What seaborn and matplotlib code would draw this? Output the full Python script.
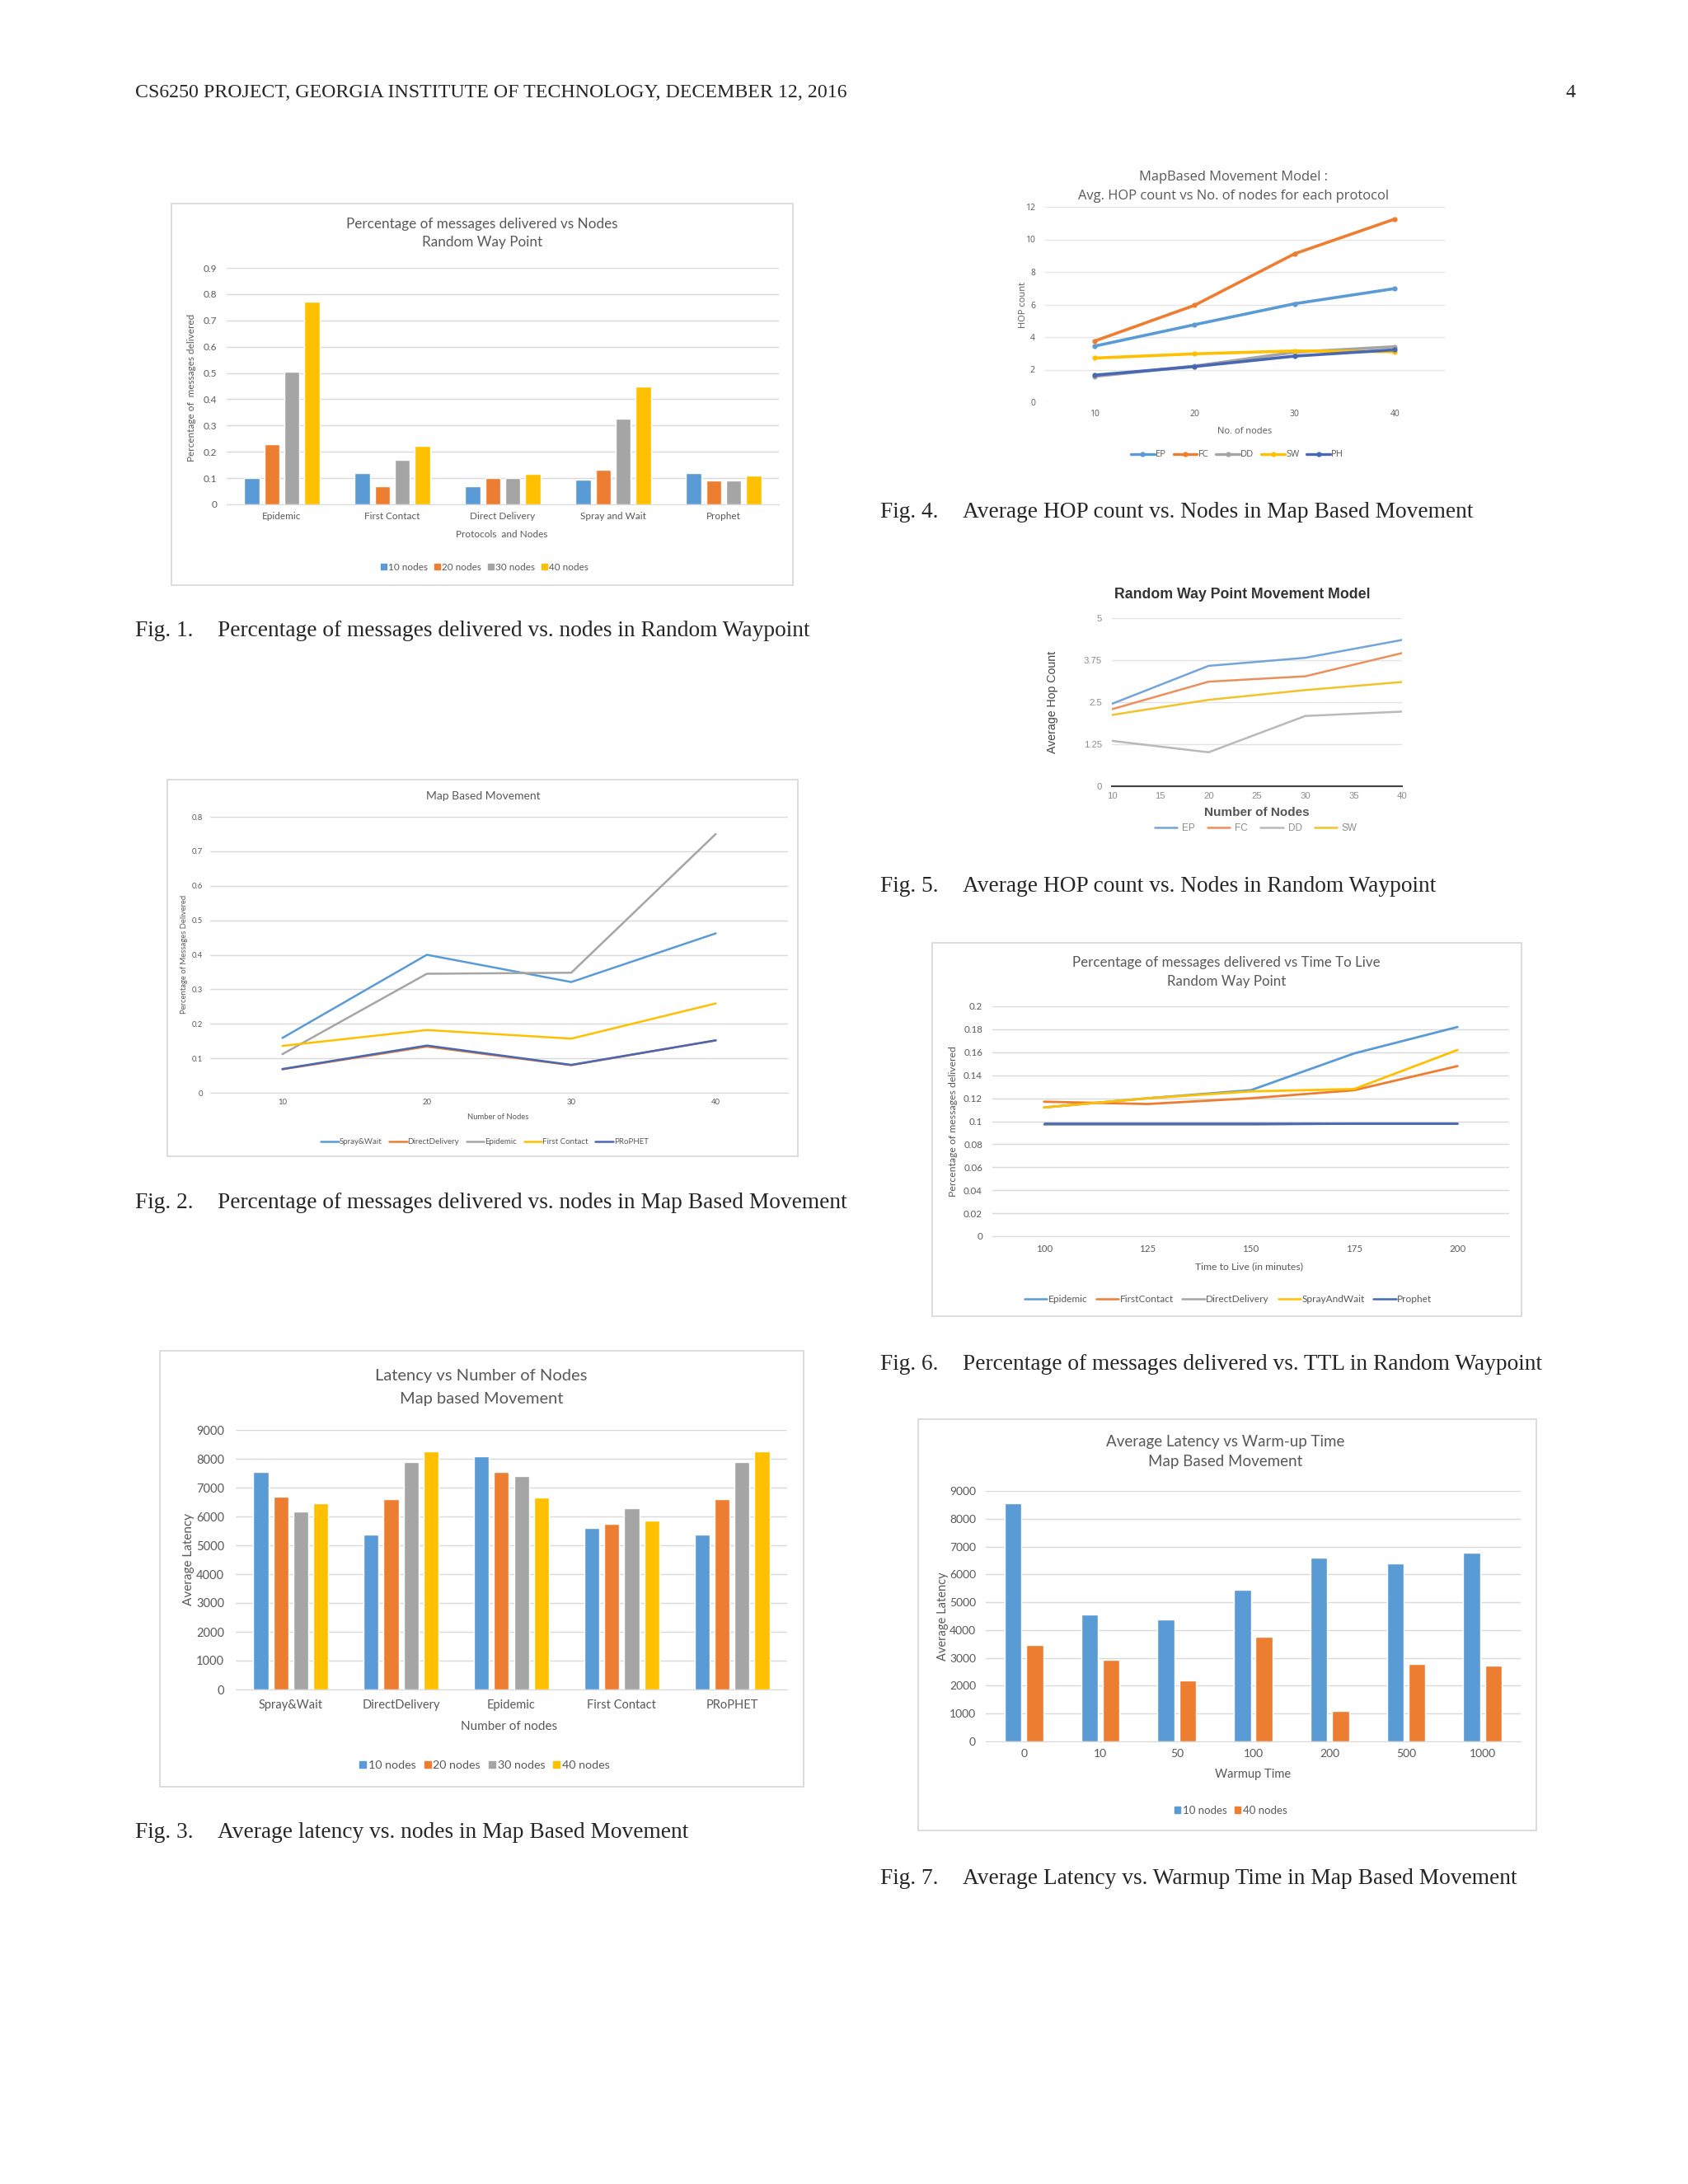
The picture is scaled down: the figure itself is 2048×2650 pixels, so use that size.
import numpy as np
import pandas as pd
import matplotlib
matplotlib.use("Agg")
import matplotlib.pyplot as plt
from matplotlib.patches import Rectangle
from matplotlib.lines import Line2D
from matplotlib.ticker import FuncFormatter
import seaborn as sns

W, H = 2048, 2650

# Fig 1 - delivery ratio, random waypoint
rwp_protocols = ["Epidemic", "First Contact", "Direct Delivery", "Spray and Wait", "Prophet"]
node_groups = ["10 nodes", "20 nodes", "30 nodes", "40 nodes"]
rwp_deliv_10 = [0.101, 0.119, 0.069, 0.094, 0.119]
rwp_deliv_20 = [0.228, 0.069, 0.101, 0.132, 0.090]
rwp_deliv_30 = [0.505, 0.169, 0.099, 0.325, 0.090]
rwp_deliv_40 = [0.771, 0.224, 0.115, 0.447, 0.110]

# Fig 2 - delivery ratio, map based
mb_nodes = [10, 20, 30, 40]
mb_series = ["Spray&Wait", "DirectDelivery", "Epidemic", "First Contact", "PRoPHET"]
mb_deliv_sw = [0.159, 0.400, 0.321, 0.462]
mb_deliv_dd = [0.068, 0.134, 0.080, 0.152]
mb_deliv_ep = [0.112, 0.345, 0.348, 0.750]
mb_deliv_fc = [0.136, 0.182, 0.157, 0.259]
mb_deliv_ph = [0.069, 0.137, 0.081, 0.152]

# Fig 3 - latency, map based
mb_lat_protocols = ["Spray&Wait", "DirectDelivery", "Epidemic", "First Contact", "PRoPHET"]
mb_lat_10 = [7530, 5360, 8080, 5590, 5360]
mb_lat_20 = [6690, 6600, 7530, 5730, 6600]
mb_lat_30 = [6180, 7900, 7400, 6280, 7900]
mb_lat_40 = [6460, 8270, 6650, 5870, 8270]

# Fig 4 - hop count, map based
hop_codes = ["EP", "FC", "DD", "SW", "PH"]
hop_mb_ep = [3.44, 4.76, 6.05, 6.98]
hop_mb_fc = [3.75, 5.95, 9.12, 11.25]
hop_mb_dd = [1.58, 2.22, 3.07, 3.41]
hop_mb_sw = [2.71, 2.97, 3.15, 3.10]
hop_mb_ph = [1.66, 2.19, 2.83, 3.22]

# Fig 5 - hop count, random waypoint
hop_rwp_ep = [2.45, 3.58, 3.82, 4.35]
hop_rwp_fc = [2.29, 3.11, 3.27, 3.96]
hop_rwp_dd = [1.35, 1.01, 2.09, 2.22]
hop_rwp_sw = [2.12, 2.57, 2.86, 3.10]

# Fig 6 - delivery vs TTL
ttl_minutes = [100, 125, 150, 175, 200]
ttl_series = ["Epidemic", "FirstContact", "DirectDelivery", "SprayAndWait", "Prophet"]
ttl_ep = [0.112, 0.120, 0.127, 0.159, 0.182]
ttl_fc = [0.117, 0.115, 0.120, 0.127, 0.148]
ttl_dd = [0.097, 0.097, 0.097, 0.098, 0.098]
ttl_sw = [0.112, 0.120, 0.126, 0.128, 0.162]
ttl_ph = [0.098, 0.098, 0.098, 0.098, 0.098]

# Fig 7 - latency vs warmup
warmup_times = ["0", "10", "50", "100", "200", "500", "1000"]
warm_groups = ["10 nodes", "40 nodes"]
warm_lat_10 = [8560, 4550, 4380, 5460, 6600, 6380, 6780]
warm_lat_40 = [3450, 2940, 2200, 3760, 1100, 2770, 2730]

BLUE, ORANGE, GRAY, YELLOW, DBLUE = "#5B9BD5", "#ED7D31", "#A5A5A5", "#FFC000", "#4868B4"
TXT = "#595959"

sns.set_style("white")
plt.rcParams["font.family"] = ["Lato", "DejaVu Sans"]

fig = plt.figure(figsize=(W / 100, H / 100), dpi=100)


def fx(x):
    return x / W


def fy(y):
    return 1 - y / H


def add_ax(x0, y0, x1, y1):
    return fig.add_axes([fx(x0), fy(y1), (x1 - x0) / W, (y1 - y0) / H])


def frame(x0, y0, x1, y1):
    fig.patches.append(Rectangle((fx(x0), fy(y1)), (x1 - x0) / W, (y1 - y0) / H,
                                 transform=fig.transFigure, fill=False,
                                 edgecolor="#D9D9D9", lw=1.3))


def style(ax, size, xpad, ypad, color=TXT, grid="#D9D9D9"):
    sns.despine(ax=ax, left=True, bottom=False, top=True, right=True)
    ax.spines["bottom"].set_color(grid)
    ax.grid(axis="y", color=grid, lw=1)
    ax.grid(axis="x", visible=False)
    ax.set_axisbelow(True)
    ax.tick_params(length=0, labelsize=size, colors=color)
    ax.tick_params(axis="x", pad=xpad)
    ax.tick_params(axis="y", pad=ypad)
    ax.yaxis.set_major_formatter(FuncFormatter(lambda v, p: f"{v:g}"))


def labels(ax, xl, xpos, yl, ypos, size, color=TXT, **kw):
    ax.set_xlabel(xl, fontsize=size, color=color, va="center", **kw)
    ax.xaxis.set_label_coords(fx(xpos[0]), fy(xpos[1]), transform=fig.transFigure)
    ax.set_ylabel(yl, fontsize=size, color=color, va="center", **kw)
    ax.yaxis.set_label_coords(fx(ypos[0]), fy(ypos[1]), transform=fig.transFigure)


def title(lines, x, ys, size, color=TXT, **kw):
    for t, y in zip(lines, ys):
        fig.text(fx(x), fy(y), t, ha="center", va="center", fontsize=size, color=color, **kw)


def legend(ax, handles, names, x, y, size, color=TXT, square=True, **kw):
    opts = dict(handlelength=0.55, handleheight=0.55, handletextpad=0.2, columnspacing=0.7) if square \
        else dict(handlelength=2.2, handletextpad=0.1, columnspacing=0.9)
    opts.update(kw)
    ax.legend(handles, names, loc="center", bbox_to_anchor=(fx(x), fy(y)),
              bbox_transform=fig.transFigure, ncol=len(names), frameon=False,
              fontsize=size, labelcolor=color, **opts)


# page header
serif = ["Liberation Serif", "DejaVu Serif"]
fig.text(fx(164), fy(113), "CS6250 PROJECT, GEORGIA INSTITUTE OF TECHNOLOGY, DECEMBER 12, 2016",
         family=serif, fontsize=17.2, va="center", ha="left")
fig.text(fx(1905), fy(113), "4", family=serif, fontsize=17.2, va="center", ha="center")

captions = [
    (164, 766, "Fig. 1.", "Percentage of messages delivered vs. nodes in Random Waypoint"),
    (1068, 621, "Fig. 4.", "Average HOP count vs. Nodes in Map Based Movement"),
    (1068, 1075, "Fig. 5.", "Average HOP count vs. Nodes in Random Waypoint"),
    (164, 1460, "Fig. 2.", "Percentage of messages delivered vs. nodes in Map Based Movement"),
    (1068, 1655, "Fig. 6.", "Percentage of messages delivered vs. TTL in Random Waypoint"),
    (164, 2223, "Fig. 3.", "Average latency vs. nodes in Map Based Movement"),
    (1068, 2280, "Fig. 7.", "Average Latency vs. Warmup Time in Map Based Movement"),
]
for cx, cy, tag, text in captions:
    fig.text(fx(cx), fy(cy), tag, family=serif, fontsize=19.7, va="center", ha="left")
    fig.text(fx(cx + 100), fy(cy), text, family=serif, fontsize=19.7, va="center", ha="left")

# ---------------- Fig 1 ----------------
frame(208, 247, 962, 710)
ax1 = add_ax(275, 325, 945, 612)
df1 = pd.DataFrame({"protocol": rwp_protocols, "10 nodes": rwp_deliv_10, "20 nodes": rwp_deliv_20,
                    "30 nodes": rwp_deliv_30, "40 nodes": rwp_deliv_40})
df1 = df1.melt(id_vars="protocol", var_name="nodes", value_name="value")
pal4 = [BLUE, ORANGE, GRAY, YELLOW]
sns.barplot(data=df1, x="protocol", y="value", hue="nodes", order=rwp_protocols, hue_order=node_groups,
            palette=pal4, width=0.725, gap=0.25, saturation=1, errorbar=None, legend=False, ax=ax1)
ax1.set_xlim(-0.5, 4.5)
ax1.set_ylim(0, 0.9)
ax1.set_yticks(np.arange(0, 0.95, 0.1))
style(ax1, 8.5, 6.5, 8.6)
labels(ax1, "Protocols  and Nodes", (609, 648), "Percentage of  messages delivered", (233, 470), 8.5)
title(["Percentage of messages delivered vs Nodes", "Random Way Point"], 585, [272, 294], 12.3)
legend(ax1, [Rectangle((0, 0), 1, 1, color=c) for c in pal4], node_groups, 588, 688, 8.5)

# ---------------- Fig 2 ----------------
frame(203, 946, 968, 1403)
ax2 = add_ax(255, 991, 956, 1326)
df2 = pd.DataFrame({"nodes": mb_nodes, "Spray&Wait": mb_deliv_sw, "DirectDelivery": mb_deliv_dd,
                    "Epidemic": mb_deliv_ep, "First Contact": mb_deliv_fc, "PRoPHET": mb_deliv_ph})
df2 = df2.melt(id_vars="nodes", var_name="protocol", value_name="value")
pal5 = [BLUE, ORANGE, GRAY, YELLOW, DBLUE]
sns.lineplot(data=df2, x="nodes", y="value", hue="protocol", hue_order=mb_series, palette=pal5,
             lw=1.8, errorbar=None, legend=False, ax=ax2)
ax2.set_xlim(5, 45)
ax2.set_xticks(mb_nodes)
ax2.set_ylim(0, 0.8)
ax2.set_yticks(np.arange(0, 0.85, 0.1))
style(ax2, 6.8, 5, 6.5)
labels(ax2, "Number of Nodes", (604, 1355), "Percentage of Messages Delivered", (224, 1158), 6.8)
title(["Map Based Movement"], 586, [966], 10)
legend(ax2, [Line2D([0], [0], color=c, lw=1.8) for c in pal5], mb_series, 588, 1386, 7,
       square=False, handlelength=2.2)

# ---------------- Fig 3 ----------------
frame(194, 1639, 975, 2168)
ax3 = add_ax(286, 1735, 955, 2050)
df3 = pd.DataFrame({"protocol": mb_lat_protocols, "10 nodes": mb_lat_10, "20 nodes": mb_lat_20,
                    "30 nodes": mb_lat_30, "40 nodes": mb_lat_40})
df3 = df3.melt(id_vars="protocol", var_name="nodes", value_name="value")
sns.barplot(data=df3, x="protocol", y="value", hue="nodes", order=mb_lat_protocols, hue_order=node_groups,
            palette=pal4, width=0.725, gap=0.25, saturation=1, errorbar=None, legend=False, ax=ax3)
ax3.set_xlim(-0.5, 4.5)
ax3.set_ylim(0, 9000)
ax3.set_yticks(np.arange(0, 9001, 1000))
style(ax3, 10.5, 8.6, 10)
labels(ax3, "Number of nodes", (618, 2095), "Average Latency", (229, 1892), 11)
title(["Latency vs Number of Nodes", "Map based Movement"], 584, [1670, 1698], 14.5)
legend(ax3, [Rectangle((0, 0), 1, 1, color=c) for c in pal4], node_groups, 588, 2142, 10.3)

# ---------------- Fig 4 ----------------
sego = ["Open Sans", "DejaVu Sans"]
ax4 = add_ax(1267, 251, 1753, 488)
df4 = pd.DataFrame({"nodes": mb_nodes, "EP": hop_mb_ep, "FC": hop_mb_fc, "DD": hop_mb_dd,
                    "SW": hop_mb_sw, "PH": hop_mb_ph})
df4 = df4.melt(id_vars="nodes", var_name="protocol", value_name="value")
sns.lineplot(data=df4, x="nodes", y="value", hue="protocol", hue_order=hop_codes, palette=pal5,
             lw=2.6, marker="o", markersize=4.5, markeredgewidth=0, errorbar=None, legend=False, ax=ax4)
ax4.set_xlim(5, 45)
ax4.set_xticks(mb_nodes)
ax4.set_ylim(0, 12)
ax4.set_yticks(np.arange(0, 13, 2))
style(ax4, 7.5, 6.7, 8)
ax4.spines["bottom"].set_visible(False)
ax4.grid(axis="y", color="#E6E6E6", lw=1)
for t in ax4.get_xticklabels() + ax4.get_yticklabels():
    t.set_family(sego)
labels(ax4, "No. of nodes", (1510, 523), "HOP count", (1242, 370), 8, family=sego)
title(["MapBased Movement Model :", "Avg. HOP count vs No. of nodes for each protocol"], 1496, [215, 238],
      11.9, family=sego)
legend(ax4, [Line2D([0], [0], color=c, lw=2.4, marker="o", ms=3.5) for c in pal5], hop_codes, 1501, 552, 8,
       square=False, handlelength=2.6, columnspacing=0.8, prop={"family": sego, "size": 8})

# ---------------- Fig 5 ----------------
arial = ["Liberation Sans", "DejaVu Sans"]
ax5 = add_ax(1349, 750, 1701, 954)
df5 = pd.DataFrame({"nodes": mb_nodes, "EP": hop_rwp_ep, "FC": hop_rwp_fc, "DD": hop_rwp_dd, "SW": hop_rwp_sw})
df5 = df5.melt(id_vars="nodes", var_name="protocol", value_name="value")
pal_g = ["#73A5D8", "#E9905D", "#B9B9B9", "#F2C32B"]
sns.lineplot(data=df5, x="nodes", y="value", hue="protocol", hue_order=hop_codes[:4], palette=pal_g,
             lw=1.8, errorbar=None, legend=False, ax=ax5)
ax5.set_xlim(10, 40)
ax5.set_xticks(np.arange(10, 41, 5))
ax5.set_ylim(0, 5)
ax5.set_yticks([0, 1.25, 2.5, 3.75, 5])
style(ax5, 8.2, 5.0, 8.6, color="#8C8C8C", grid="#E3E3E3")
ax5.spines["bottom"].set_color("#444444")
ax5.spines["bottom"].set_linewidth(1.5)
for t in ax5.get_xticklabels() + ax5.get_yticklabels():
    t.set_family(arial)
ax5.set_xlabel("Number of Nodes", fontsize=11, color="#555555", va="center", family=arial, weight="bold")
ax5.xaxis.set_label_coords(fx(1525), fy(986), transform=fig.transFigure)
ax5.set_ylabel("Average Hop Count", fontsize=10.2, color="#444444", va="center", family=arial)
ax5.yaxis.set_label_coords(fx(1277), fy(852), transform=fig.transFigure)
title(["Random Way Point Movement Model"], 1507, [721], 12.8, color="#333333", family=arial, weight="bold")
legend(ax5, [Line2D([0], [0], color=c, lw=1.8) for c in pal_g], hop_codes[:4], 1524, 1005, 8.5,
       color="#8C8C8C", square=False, handlelength=2.3, handletextpad=0.5, columnspacing=1.3,
       prop={"family": arial, "size": 8.5})

# ---------------- Fig 6 ----------------
frame(1131, 1144, 1846, 1597)
ax6 = add_ax(1204, 1221, 1831, 1500)
df6 = pd.DataFrame({"ttl": ttl_minutes, "Epidemic": ttl_ep, "FirstContact": ttl_fc, "DirectDelivery": ttl_dd,
                    "SprayAndWait": ttl_sw, "Prophet": ttl_ph})
df6 = df6.melt(id_vars="ttl", var_name="protocol", value_name="value")
sns.lineplot(data=df6, x="ttl", y="value", hue="protocol", hue_order=ttl_series, palette=pal5,
             lw=2.0, errorbar=None, legend=False, ax=ax6)
ax6.set_xlim(87.5, 212.5)
ax6.set_xticks(ttl_minutes)
ax6.set_ylim(0, 0.2)
ax6.set_yticks(np.arange(0, 0.201, 0.02))
style(ax6, 8.3, 7, 8.6)
labels(ax6, "Time to Live (in minutes)", (1516, 1537), "Percentage of messages delivered", (1157, 1361), 8.8)
title(["Percentage of messages delivered vs Time To Live", "Random Way Point"], 1488, [1168, 1191], 12.2)
legend(ax6, [Line2D([0], [0], color=c, lw=1.8) for c in pal5], ttl_series, 1490, 1577, 8.6,
       square=False, handlelength=2.3)

# ---------------- Fig 7 ----------------
frame(1114, 1722, 1864, 2221)
ax7 = add_ax(1196, 1809, 1845, 2113)
df7 = pd.DataFrame({"warmup": warmup_times, "10 nodes": warm_lat_10, "40 nodes": warm_lat_40})
df7 = df7.melt(id_vars="warmup", var_name="nodes", value_name="value")
sns.barplot(data=df7, x="warmup", y="value", hue="nodes", order=warmup_times, hue_order=warm_groups,
            palette=[BLUE, ORANGE], width=0.565, gap=0.22, saturation=1, errorbar=None, legend=False, ax=ax7)
ax7.set_xlim(-0.5, 6.5)
ax7.set_ylim(0, 9000)
ax7.set_yticks(np.arange(0, 9001, 1000))
style(ax7, 10, 6.7, 8.6)
labels(ax7, "Warmup Time", (1520, 2153), "Average Latency", (1144, 1961), 10.5)
title(["Average Latency vs Warm-up Time", "Map Based Movement"], 1487, [1749, 1774], 13.5)
legend(ax7, [Rectangle((0, 0), 1, 1, color=c) for c in [BLUE, ORANGE]], warm_groups, 1493, 2197, 9.5)

fig.savefig("out.png", dpi=100, facecolor="white")
